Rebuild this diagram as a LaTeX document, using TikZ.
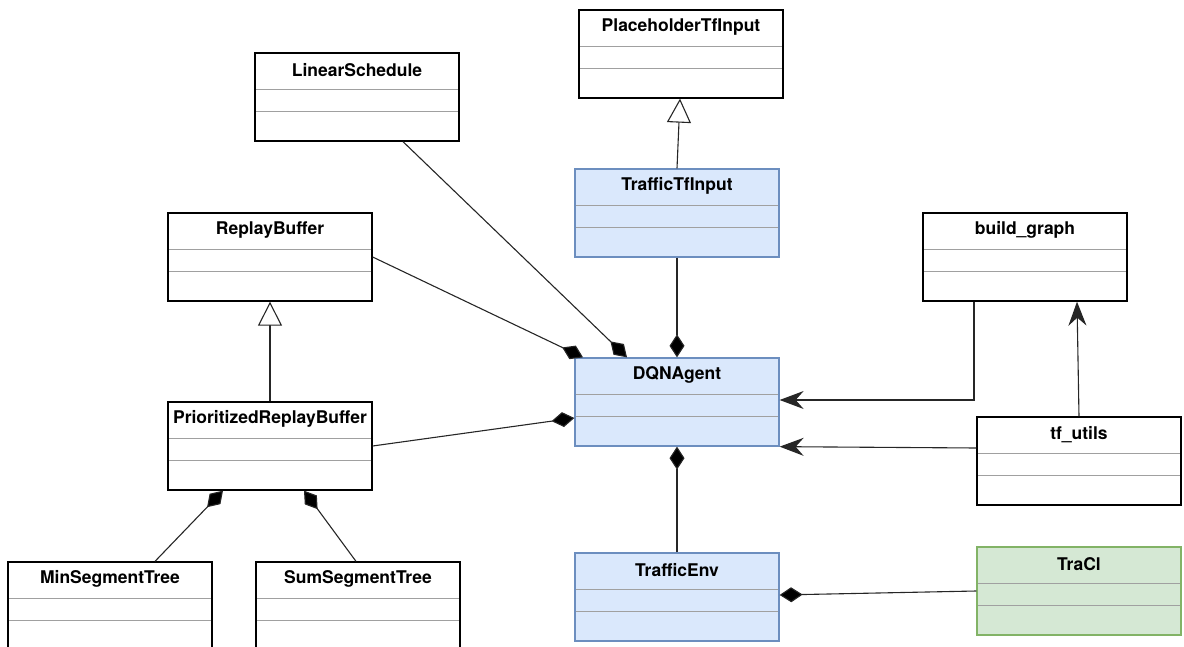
\documentclass[tikz,border=0pt]{standalone}
\usepackage{fontspec}
\setmainfont{TeX Gyre Heros}
\usetikzlibrary{arrows.meta}
\definecolor{blueFill}{HTML}{DAE8FC}
\definecolor{blueLine}{HTML}{6C8EBF}
\definecolor{greenFill}{HTML}{D5E8D4}
\definecolor{greenLine}{HTML}{82B366}
\definecolor{sepGray}{HTML}{A0A0A0}
\tikzset{
  umlclass/.style={draw=black, line width=1.3pt, fill=white, rectangle,
    minimum width=204pt, minimum height=88pt, inner sep=0pt,
    path picture={
      \draw[sepGray, line width=0.9pt]
        ([yshift=-36pt]path picture bounding box.north west) -- ([yshift=-36pt]path picture bounding box.north east)
        ([yshift=-58pt]path picture bounding box.north west) -- ([yshift=-58pt]path picture bounding box.north east);
    }},
  title/.style={label={[anchor=center, yshift=-18pt, font=\bfseries\fontsize{17.5}{20}\selectfont]north:#1}},
  bluebox/.style={fill=blueFill, draw=blueLine},
  greenbox/.style={fill=greenFill, draw=greenLine},
  link/.style={line width=1.1pt, draw=black!85},
  compose/.style={link, -{Diamond[length=23pt, width=15pt, fill=black]}},
  inherit/.style={link, -{Triangle[open, length=24pt, width=24pt, fill=white, line width=1.1pt]}},
  uses/.style={link, -{Stealth[length=24pt, width=18pt, inset=8pt]}},
}
\begin{document}
\begin{tikzpicture}[x=1pt, y=1pt]
\useasboundingbox (0,0) rectangle (1184,-647);
\clip (0,0) rectangle (1184,-647);

% classes
\node[umlclass, title=PlaceholderTfInput] (placeholder) at (681,-54) {};
\node[umlclass, title=LinearSchedule] (linear) at (357,-97) {};
\node[umlclass, bluebox, title=TrafficTfInput] (traffictf) at (677,-213) {};
\node[umlclass, title=ReplayBuffer] (replay) at (270,-257) {};
\node[umlclass, title=build\_graph] (buildgraph) at (1025,-257) {};
\node[umlclass, bluebox, title=DQNAgent] (dqn) at (677,-402) {};
\node[umlclass, title=PrioritizedReplayBuffer] (prb) at (270,-446) {};
\node[umlclass, title=tf\_utils] (tfutils) at (1079,-461) {};
\node[umlclass, greenbox, title=TraCl] (tracl) at (1079,-591) {};
\node[umlclass, bluebox, title=TrafficEnv] (trafficenv) at (677,-597) {};
\node[umlclass, title=MinSegmentTree] (minseg) at (110,-606) {};
\node[umlclass, title=SumSegmentTree] (sumseg) at (358,-606) {};

% inheritance
\draw[inherit] (traffictf.north) -- ([xshift=-1pt]placeholder.south);
\draw[inherit] (prb.north) -- (replay.south);

% composition into DQNAgent
\draw[compose] (traffictf.south) -- (dqn.north);
\draw[compose] ([xshift=46pt]linear.south) -- ([xshift=-50pt]dqn.north);
\draw[compose] (replay.east) -- ([xshift=-94pt]dqn.north);
\draw[compose] (prb.east) -- ([yshift=-16pt]dqn.west);
\draw[compose] (trafficenv.north) -- (dqn.south);

% composition into PrioritizedReplayBuffer and TrafficEnv
\draw[compose] ([xshift=45pt]minseg.north) -- ([xshift=-47pt]prb.south);
\draw[compose] ([xshift=-2pt]sumseg.north) -- ([xshift=34pt]prb.south);
\draw[compose] (tracl.west) -- ([yshift=2pt]trafficenv.east);

% dependencies
\draw[uses] ([xshift=-51pt]buildgraph.south) |- ([yshift=2pt]dqn.east);
\draw[uses] ([yshift=13pt]tfutils.west) -- (dqn.south east);
\draw[uses] (tfutils.north) -- ([xshift=52pt]buildgraph.south);
\end{tikzpicture}
\end{document}
